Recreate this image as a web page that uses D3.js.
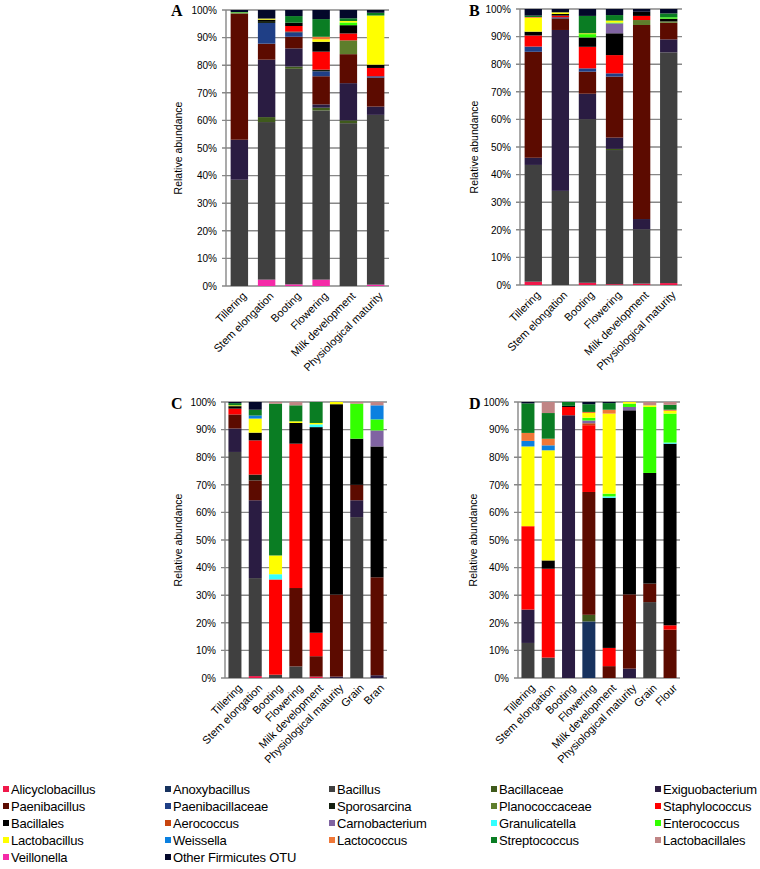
<!DOCTYPE html>
<html><head><meta charset="utf-8">
<script src="https://cdn.jsdelivr.net/npm/d3@7"></script>
<style>body{margin:0;background:#fff}svg{display:block}</style>
</head><body><svg id="chart" width="760" height="869"></svg>
<script>
// ---------- data ----------
const seriesNames = ["Alicyclobacillus","Anoxybacillus","Bacillus","Bacillaceae","Exiguobacterium",
  "Paenibacillus","Paenibacillaceae","Sporosarcina","Planococcaceae","Staphylococcus",
  "Bacillales","Aerococcus","Carnobacterium","Granulicatella","Enterococcus",
  "Lactobacillus","Weissella","Lactococcus","Streptococcus","Lactobacillales",
  "Veillonella","Other Firmicutes OTU"];
const seriesColors = ["#f0184a","#17325e","#404040","#3f5a1c","#2a1c42",
  "#5c0b00","#1f3f86","#152010","#5e7e2c","#ff0000",
  "#000000","#c8450f","#8064a2","#33ffff","#33ff00",
  "#ffff00","#0b80e0","#f07838","#0a7d23","#c08585",
  "#f52aa8","#03082a"];
const tickValues = [0,10,20,30,40,50,60,70,80,90,100];
const tickLabels = ["0%","10%","20%","30%","40%","50%","60%","70%","80%","90%","100%"];

const categoriesAB = ["Tillering","Stem elongation","Booting","Flowering","Milk development","Physiological maturity"];
const categoriesC = ["Tillering","Stem elongation","Booting","Flowering","Milk development","Physiological maturity","Grain","Bran"];
const categoriesD = ["Tillering","Stem elongation","Booting","Flowering","Milk development","Physiological maturity","Grain","Flour"];

const valuesA = {
  "Veillonella":          [0, 2.3, 0.6, 2.3, 0, 0.5],
  "Bacillus":             [38.5, 57.1, 78.1, 61.3, 59.0, 61.5],
  "Bacillaceae":          [0, 1.8, 0.8, 1.0, 1.0, 0],
  "Exiguobacterium":      [14.5, 20.8, 6.6, 1.2, 13.5, 3.0],
  "Paenibacillus":        [45.7, 5.8, 4.2, 10.2, 10.5, 10.5],
  "Paenibacillaceae":     [0, 7.5, 1.6, 1.8, 0, 0.5],
  "Sporosarcina":         [0, 0.7, 0.3, 0.6, 0, 0],
  "Planococcaceae":       [0.3, 0, 0, 0, 5.0, 0],
  "Staphylococcus":       [0, 0, 2.0, 6.5, 2.5, 3.0],
  "Bacillales":           [0, 0.5, 1.2, 3.6, 3.0, 1.2],
  "Enterococcus":         [0.2, 0, 0, 0, 1.0, 0],
  "Lactobacillus":        [0, 0.4, 0, 0.9, 0.5, 17.8],
  "Lactococcus":          [0, 0, 0, 0.9, 0, 0],
  "Streptococcus":        [0, 0, 2.4, 6.4, 1.0, 1.0],
  "Other Firmicutes OTU": [0.8, 3.1, 2.2, 3.3, 3.0, 1.0]
};
const valuesB = {
  "Alicyclobacillus":     [1.2, 0, 0.8, 0.3, 0.5, 0.7],
  "Bacillus":             [42.3, 34.1, 59.3, 48.6, 19.7, 83.6],
  "Bacillaceae":          [0, 0, 0, 0.4, 0, 0],
  "Exiguobacterium":      [2.6, 58.3, 9.2, 4.1, 3.7, 4.7],
  "Paenibacillus":        [38.4, 4.2, 8.0, 22.1, 70.3, 6.0],
  "Paenibacillaceae":     [1.9, 0.4, 1.2, 1.2, 0, 0],
  "Planococcaceae":       [0, 0, 0, 0, 1.8, 0.5],
  "Staphylococcus":       [4.0, 0.6, 7.8, 6.6, 1.5, 0],
  "Bacillales":           [1.4, 0.6, 3.4, 7.9, 1.5, 1.0],
  "Carnobacterium":       [0, 0, 0, 3.6, 0, 0],
  "Enterococcus":         [0, 0, 1.2, 0.3, 0, 0.5],
  "Lactobacillus":        [5.0, 0.6, 0.3, 0.7, 0, 0],
  "Lactococcus":          [0.3, 0, 0, 0, 0, 0],
  "Streptococcus":        [0.5, 0, 6.3, 2.0, 0, 1.4],
  "Other Firmicutes OTU": [2.4, 1.2, 2.5, 2.2, 1.0, 1.6]
};
const valuesC = {
  "Alicyclobacillus":     [0, 0.7, 0, 0, 0.5, 0, 0, 0],
  "Bacillus":             [81.9, 35.5, 1.2, 4.2, 0, 0, 58.3, 0],
  "Exiguobacterium":      [8.5, 28.2, 0, 0, 0, 0.5, 6.1, 1.0],
  "Paenibacillus":        [5.1, 7.2, 0, 28.4, 7.4, 29.7, 5.6, 35.5],
  "Sporosarcina":         [0, 2.1, 0, 0, 0, 0, 0, 0],
  "Staphylococcus":       [2.1, 12.4, 34.5, 52.3, 8.5, 0, 0, 0],
  "Bacillales":           [0.9, 2.8, 0, 7.5, 74.5, 69.0, 16.7, 47.4],
  "Carnobacterium":       [0, 0, 0, 0, 0, 0, 0, 5.8],
  "Granulicatella":       [0, 0, 1.9, 0, 1.0, 0, 0, 0],
  "Enterococcus":         [0, 0, 0, 0, 0, 0, 12.7, 4.0],
  "Lactobacillus":        [0.3, 5.1, 6.8, 0.6, 0.5, 0.8, 0, 0],
  "Weissella":            [0, 1.1, 0, 0, 0, 0, 0, 5.1],
  "Streptococcus":        [0.8, 2.1, 55.0, 5.8, 7.6, 0, 0, 0],
  "Lactobacillales":      [0, 0, 0.6, 1.2, 0, 0, 0.6, 1.2],
  "Other Firmicutes OTU": [0.4, 2.8, 0, 0, 0, 0, 0, 0]
};
const valuesD = {
  "Anoxybacillus":        [0, 0, 0, 20.5, 0, 0, 0, 0],
  "Bacillus":             [12.7, 7.4, 0, 0, 0, 0, 27.5, 0],
  "Bacillaceae":          [0, 0, 0, 2.4, 0, 0, 0, 0],
  "Exiguobacterium":      [12.1, 0, 95.2, 0, 0, 3.4, 0, 0],
  "Paenibacillus":        [0, 0, 0, 44.5, 4.3, 26.9, 6.7, 17.5],
  "Staphylococcus":       [30.2, 32.2, 3.0, 24.2, 6.6, 0, 0, 1.6],
  "Bacillales":           [0, 3.0, 0.4, 0, 54.4, 66.7, 40.1, 65.8],
  "Aerococcus":           [0, 0, 0, 0.7, 0, 0, 0, 0],
  "Carnobacterium":       [0, 0, 0, 1.0, 0, 1.2, 0, 0],
  "Granulicatella":       [0, 0, 0, 0, 0.5, 0, 0, 0.4],
  "Enterococcus":         [0, 0, 0, 1.0, 1.0, 1.2, 23.9, 10.5],
  "Lactobacillus":        [28.9, 39.9, 0, 1.7, 29.0, 0.6, 0.6, 1.0],
  "Weissella":            [2.0, 1.8, 0, 0, 0, 0, 0, 0],
  "Lactococcus":          [2.9, 2.4, 0, 0.4, 1.4, 0, 0, 0.4],
  "Streptococcus":        [10.7, 9.3, 1.4, 2.8, 2.4, 0, 0, 1.8],
  "Lactobacillales":      [0, 4.0, 0, 0, 0, 0, 1.2, 1.0],
  "Other Firmicutes OTU": [0.5, 0, 0, 0.8, 0.4, 0, 0, 0]
};

// ---------- layout ----------
const panels = [
  {letter:"A", cats:categoriesAB, vals:valuesA, x0:226, x1:389, yTop:10,  yBot:286, lx:171, ly:16,  tx:178},
  {letter:"B", cats:categoriesAB, vals:valuesB, x0:520, x1:682, yTop:9,   yBot:285, lx:469, ly:16,  tx:474},
  {letter:"C", cats:categoriesC,  vals:valuesC, x0:225, x1:387, yTop:402, yBot:678, lx:171, ly:409, tx:178},
  {letter:"D", cats:categoriesD,  vals:valuesD, x0:518, x1:680, yTop:402, yBot:678, lx:469, ly:409, tx:473}
];
const gridColor = "#878787";
const font = "'Liberation Sans', Arial, Helvetica, sans-serif";
const colorOf = d3.scaleOrdinal().domain(seriesNames).range(seriesColors);
// Veillonella drawn at the bottom of each stack
const stackKeys = ["Veillonella"].concat(seriesNames.filter(s => s !== "Veillonella"));

const svg = d3.select("#chart");

panels.forEach(p => {
  const g = svg.append("g");
  const x = d3.scaleBand().domain(p.cats).range([p.x0, p.x1]).paddingInner(0.36).paddingOuter(0.17);
  const y = d3.scaleLinear().domain([0, 100]).range([p.yBot, p.yTop]);

  // gridlines
  g.selectAll("line.grid").data(tickValues).join("line")
    .attr("x1", p.x0 - 4).attr("x2", p.x1)
    .attr("y1", d => y(d)).attr("y2", d => y(d))
    .attr("stroke", gridColor).attr("stroke-width", 1.4);
  // vertical axis line
  g.append("line").attr("x1", p.x0).attr("x2", p.x0).attr("y1", y(100)).attr("y2", y(0))
    .attr("stroke", gridColor).attr("stroke-width", 1.4);

  // tick labels via d3 axis
  const axis = d3.axisLeft(y).tickValues(tickValues)
    .tickFormat((d, i) => tickLabels[i]).tickSize(0).tickPadding(9);
  const ag = g.append("g").attr("transform", `translate(${p.x0},0)`).call(axis);
  ag.select(".domain").remove();
  ag.selectAll("text").attr("font-family", font).attr("font-size", 10).attr("fill", "#000");

  // stacked data
  const rows = p.cats.map((c, i) => {
    const r = {cat: c};
    stackKeys.forEach(k => { r[k] = p.vals[k] ? p.vals[k][i] : 0; });
    return r;
  });
  const stacked = d3.stack().keys(stackKeys)(rows);
  g.selectAll("g.layer").data(stacked).join("g")
    .attr("fill", d => colorOf(d.key))
    .selectAll("rect").data(d => d.filter(s => s[1] - s[0] > 0)).join("rect")
    .attr("x", d => x(d.data.cat))
    .attr("width", x.bandwidth())
    .attr("y", d => y(d[1]))
    .attr("height", d => y(d[0]) - y(d[1]));

  // category labels
  g.selectAll("text.cat").data(p.cats).join("text")
    .attr("transform", d => `translate(${x(d) + x.bandwidth() / 2 + 5},${p.yBot + 8}) rotate(-45)`)
    .attr("text-anchor", "end").attr("dy", "0.35em")
    .attr("font-family", font).attr("font-size", 11).attr("fill", "#000")
    .text(d => d);

  // y title
  g.append("text")
    .attr("transform", `translate(${p.tx},${(p.yTop + p.yBot) / 2}) rotate(-90)`)
    .attr("text-anchor", "middle").attr("dy", "0.35em")
    .attr("font-family", font).attr("font-size", 10.5).attr("fill", "#000")
    .text("Relative abundance");

  // panel letter
  g.append("text").attr("x", p.lx).attr("y", p.ly)
    .attr("font-family", "'Liberation Serif', 'Times New Roman', serif")
    .attr("font-weight", "bold").attr("font-size", 16).attr("fill", "#000")
    .text(p.letter);
});

// ---------- legend ----------
const legendCols = [3, 165, 329, 491, 655];
const legendRowY = [789, 806, 823, 840, 857];
const lg = svg.append("g");
const items = lg.selectAll("g").data(seriesNames).join("g")
  .attr("transform", (d, i) => `translate(${legendCols[i % 5]},${legendRowY[Math.floor(i / 5)]})`);
items.append("rect").attr("x", 0).attr("y", -3).attr("width", 6).attr("height", 6)
  .attr("fill", d => colorOf(d));
items.append("text").attr("x", 8).attr("y", 0).attr("dy", "0.35em")
  .attr("font-family", font).attr("font-size", 13).attr("letter-spacing", -0.2).attr("fill", "#000")
  .text(d => d);
</script>
</body></html>
